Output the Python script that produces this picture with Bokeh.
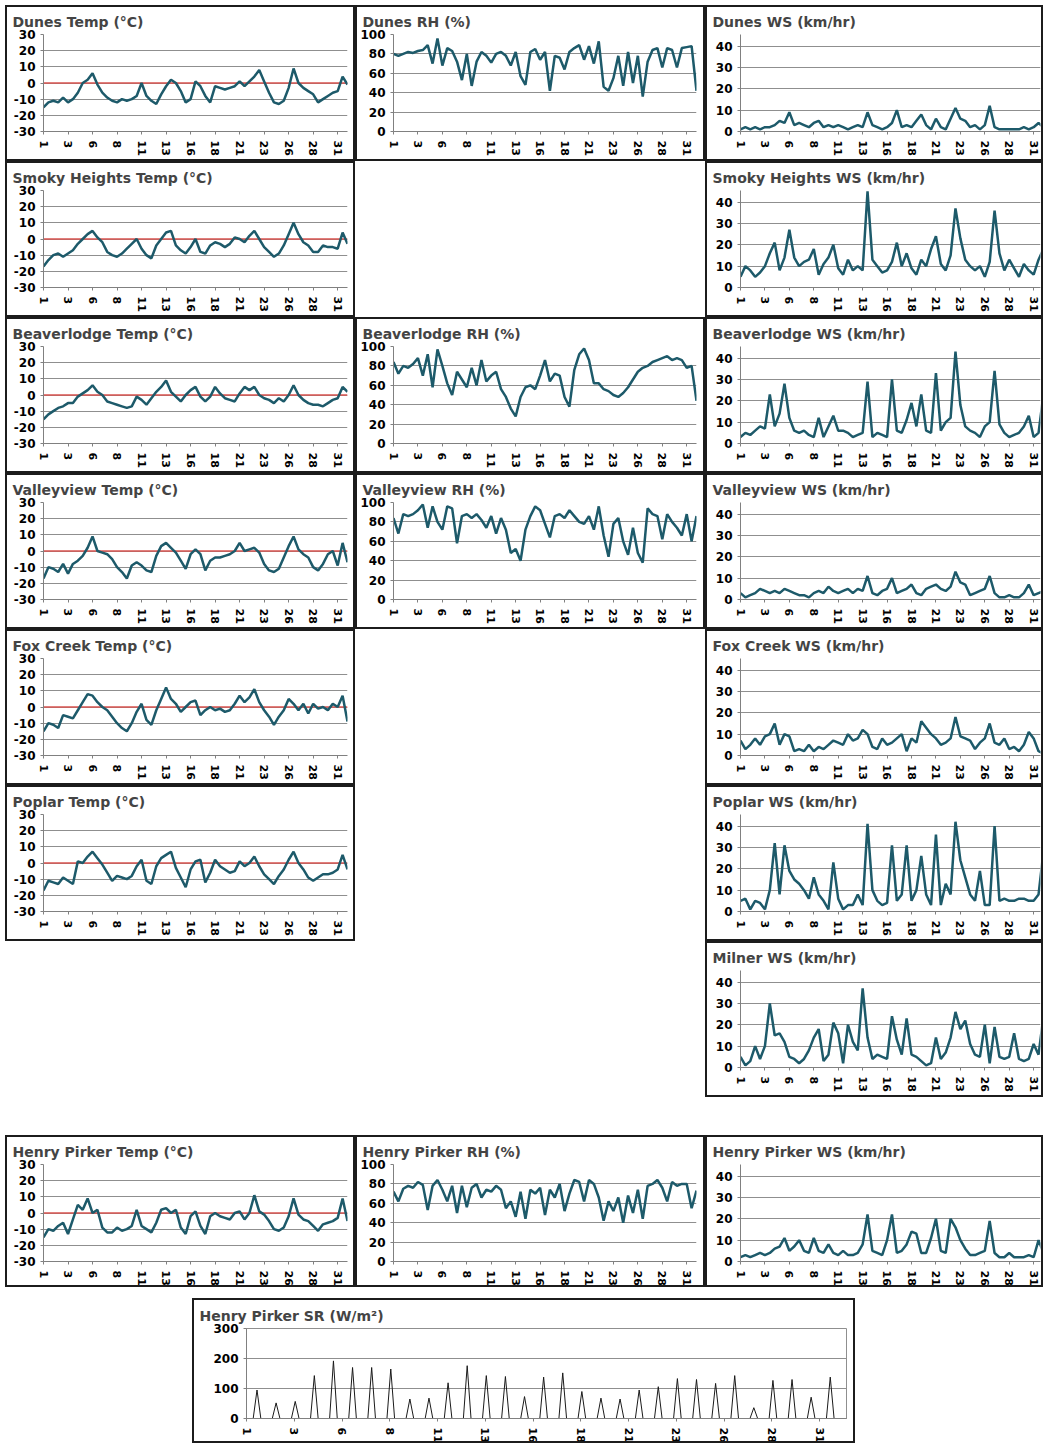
from bokeh.plotting import figure
from bokeh.layouts import column, row
from bokeh.models import Spacer, FixedTicker, Span, Range1d
from bokeh.embed import file_html
from bokeh.resources import INLINE

# sample times (half-day steps, day of month)
sample_day = [1 + 0.5 * i for i in range(63)]
tick_pos = [1, 3.5, 6, 8.5, 11, 13.5, 16, 18.5, 21, 23.5, 26, 28.5, 31]
tick_text = ["1", "3", "6", "8", "11", "13", "16", "18", "21", "23", "26", "28", "31"]

dunes_temp = [-15, -12, -11, -12, -9, -12, -10, -6, 0, 2,
              6, -1, -6, -9, -11, -12, -10, -11, -10, -8,
              0, -8, -11, -13, -7, -2, 2, 0, -5, -12,
              -10, 1, -2, -8, -12, -2, -3, -4, -3, -2,
              1, -2, 1, 4, 8, 1, -6, -12, -13, -11,
              -3, 9, 0, -3, -5, -7, -12, -10, -8, -6,
              -5, 4, -1]
dunes_rh = [80, 78, 80, 82, 81, 83, 84, 89, 70, 96,
            68, 86, 83, 72, 53, 80, 47, 72, 82, 78,
            71, 80, 82, 78, 68, 82, 57, 48, 82, 85,
            74, 82, 42, 78, 76, 64, 82, 86, 89, 74,
            88, 70, 93, 46, 42, 55, 78, 47, 82, 50,
            78, 36, 72, 84, 86, 66, 86, 84, 66, 86,
            87, 88, 42]
dunes_ws = [1, 2, 1, 2, 1, 2, 2, 3, 5, 4,
            9, 3, 4, 3, 2, 4, 5, 2, 3, 2,
            3, 2, 1, 2, 3, 2, 9, 3, 2, 1,
            2, 4, 10, 2, 3, 2, 5, 8, 3, 1,
            6, 2, 1, 6, 11, 6, 5, 2, 3, 1,
            3, 12, 2, 1, 1, 1, 1, 1, 2, 1,
            2, 4, 2]
smoky_temp = [-17, -13, -10, -9, -11, -9, -7, -3, 0, 3,
              5, 1, -2, -8, -10, -11, -9, -6, -3, 0,
              -6, -10, -12, -4, 0, 4, 5, -4, -7, -9,
              -5, 0, -8, -9, -4, -2, -3, -5, -3, 1,
              0, -2, 2, 5, 0, -5, -8, -11, -9, -4,
              3, 10, 3, -2, -4, -8, -8, -4, -5, -5,
              -6, 4, -3]
smoky_ws = [5, 10, 8, 5, 7, 10, 16, 21, 8, 14,
            27, 14, 10, 12, 13, 18, 6, 11, 14, 20,
            9, 6, 13, 8, 10, 8, 45, 13, 10, 7,
            8, 12, 21, 10, 16, 9, 6, 13, 10, 18,
            24, 11, 8, 15, 37, 23, 13, 10, 8, 10,
            5, 12, 36, 16, 8, 13, 9, 5, 11, 8,
            6, 13, 18]
beaver_temp = [-15, -12, -10, -8, -7, -5, -5, -1, 1, 3,
               6, 2, 0, -4, -5, -6, -7, -8, -7, -1,
               -3, -6, -2, 2, 5, 9, 2, -1, -4, 0,
               3, 5, -1, -4, -1, 5, 1, -2, -3, -4,
               1, 5, 3, 5, 0, -2, -3, -5, -2, -4,
               0, 6, 0, -3, -5, -6, -6, -7, -5, -3,
               -2, 5, 2]
beaver_rh = [84, 72, 80, 78, 82, 88, 70, 92, 58, 97,
             80, 62, 50, 74, 66, 58, 78, 60, 86, 64,
             70, 74, 56, 48, 36, 28, 48, 58, 60, 56,
             70, 86, 64, 72, 70, 48, 38, 76, 92, 98,
             86, 62, 62, 56, 54, 50, 48, 52, 58, 66,
             74, 78, 80, 84, 86, 88, 90, 86, 88, 86,
             78, 80, 44]
beaver_ws = [3, 5, 4, 6, 8, 7, 23, 8, 14, 28,
             12, 6, 5, 6, 4, 3, 12, 3, 8, 13,
             6, 6, 5, 3, 4, 5, 29, 3, 5, 4,
             3, 30, 6, 5, 11, 19, 8, 23, 6, 5,
             33, 6, 10, 12, 43, 18, 8, 6, 5, 3,
             8, 10, 34, 9, 5, 3, 4, 5, 8, 13,
             3, 5, 23]
valley_temp = [-17, -10, -11, -13, -8, -14, -8, -6, -3, 2,
               9, 0, -1, -2, -5, -10, -13, -17, -9, -7,
               -9, -12, -13, -3, 3, 5, 2, -1, -6, -11,
               -2, 1, -2, -12, -6, -4, -4, -3, -2, 0,
               5, 0, 1, 2, -1, -8, -12, -13, -11, -4,
               3, 9, 1, -2, -4, -10, -12, -8, -2, 0,
               -9, 5, -7]
valley_rh = [84, 68, 88, 86, 88, 92, 98, 74, 96, 80,
             72, 96, 94, 58, 86, 88, 84, 88, 82, 74,
             86, 68, 84, 72, 48, 52, 40, 72, 86, 96,
             92, 78, 64, 86, 88, 84, 92, 86, 80, 78,
             86, 72, 96, 66, 44, 78, 84, 60, 46, 74,
             48, 38, 94, 88, 86, 62, 88, 80, 74, 66,
             88, 60, 86]
valley_ws = [3, 1, 2, 3, 5, 4, 3, 4, 3, 5,
             4, 3, 2, 2, 1, 3, 4, 3, 6, 4,
             3, 4, 5, 3, 5, 4, 11, 3, 2, 4,
             5, 10, 3, 4, 5, 7, 3, 2, 5, 6,
             7, 5, 4, 6, 13, 8, 7, 2, 3, 4,
             5, 11, 3, 1, 1, 2, 1, 1, 3, 7,
             2, 3, 4]
fox_temp = [-15, -10, -11, -13, -5, -6, -7, -2, 3, 8,
            7, 3, 0, -2, -6, -10, -13, -15, -10, -3,
            2, -8, -11, -2, 5, 12, 5, 2, -3, 0,
            3, 4, -5, -2, 0, -2, -1, -3, -2, 2,
            7, 3, 6, 11, 3, -2, -6, -11, -6, -2,
            5, 2, -2, 2, -4, 2, -1, 0, -2, 2,
            0, 7, -9]
fox_ws = [7, 3, 5, 8, 5, 9, 10, 15, 5, 10,
          9, 2, 3, 2, 5, 2, 4, 3, 5, 7,
          6, 5, 10, 7, 8, 12, 10, 4, 3, 8,
          5, 6, 8, 10, 2, 8, 6, 16, 13, 10,
          8, 5, 6, 8, 18, 9, 8, 7, 3, 6,
          8, 15, 6, 5, 8, 3, 4, 2, 5, 11,
          8, 2, 1]
poplar_temp = [-17, -11, -12, -13, -9, -11, -13, 1, 0, 4,
               7, 3, -1, -6, -11, -8, -9, -10, -8, -2,
               2, -11, -13, -2, 3, 5, 7, -3, -9, -15,
               -4, 1, 2, -12, -6, 2, -2, -4, -6, -5,
               1, -2, 0, 4, -2, -7, -10, -13, -8, -4,
               2, 7, 0, -4, -9, -11, -9, -7, -7, -6,
               -4, 5, -4]
poplar_ws = [5, 6, 1, 5, 4, 1, 10, 32, 8, 31,
             19, 15, 13, 10, 6, 16, 8, 5, 1, 23,
             6, 1, 3, 3, 8, 3, 41, 10, 5, 3,
             4, 31, 5, 8, 31, 5, 10, 26, 8, 3,
             36, 3, 13, 8, 42, 24, 16, 8, 5, 19,
             3, 3, 40, 5, 6, 5, 5, 6, 6, 5,
             5, 8, 28]
milner_ws = [5, 1, 3, 10, 4, 10, 30, 15, 16, 12,
             5, 4, 2, 4, 8, 14, 18, 3, 6, 21,
             16, 2, 20, 12, 8, 37, 14, 4, 6, 5,
             4, 24, 13, 6, 23, 6, 5, 3, 1, 2,
             14, 4, 7, 14, 26, 18, 22, 11, 6, 5,
             20, 2, 19, 5, 4, 5, 16, 4, 3, 4,
             11, 6, 24]
henry_temp = [-15, -10, -11, -8, -6, -13, -4, 5, 2, 9,
              0, 2, -9, -12, -12, -9, -11, -10, -8, 2,
              -8, -10, -12, -6, 2, 3, 0, 2, -9, -13,
              -2, 1, -8, -13, -2, 0, -2, -3, -4, 0,
              1, -4, 0, 11, 1, -1, -5, -10, -11, -9,
              -2, 9, -1, -4, -5, -8, -11, -7, -6, -5,
              -3, 9, -5]
henry_rh = [72, 62, 75, 78, 76, 82, 79, 53, 78, 84,
            74, 62, 78, 50, 78, 56, 76, 80, 66, 74,
            72, 78, 74, 55, 62, 46, 72, 44, 74, 70,
            76, 48, 74, 66, 80, 52, 70, 84, 82, 62,
            84, 80, 66, 42, 62, 52, 66, 40, 68, 50,
            74, 44, 78, 80, 84, 76, 62, 82, 78, 80,
            80, 55, 73]
henry_ws = [2, 3, 2, 3, 4, 3, 4, 6, 7, 11,
            5, 7, 10, 5, 4, 11, 5, 4, 8, 4,
            3, 5, 3, 3, 4, 8, 22, 5, 4, 3,
            10, 22, 4, 5, 8, 14, 13, 4, 4, 11,
            20, 5, 4, 20, 16, 10, 6, 3, 3, 4,
            5, 19, 4, 2, 2, 4, 2, 2, 2, 3,
            2, 10, 4]
# daily solar radiation peaks (W/m2), days 1..31
sr_peak = [95, 52, 57, 143, 192, 170, 170, 165, 65, 68,
           119, 176, 143, 140, 73, 138, 152, 90, 68, 65,
           95, 106, 133, 130, 117, 143, 36, 127, 130, 71, 138]

sr_x, sr_y = [1.0], [0]
for i, pk in enumerate(sr_peak):
    d = i + 1
    sr_x += [d + 0.35, d + 0.55, d + 0.75]
    sr_y += [0, pk, 0]
sr_x.append(32.4)
sr_y.append(0)

LINE = "#1d5a6a"
GRID = "#8f8f8f"
AXIS = "#808080"
FONT = "DejaVu Sans"
TITLE_PX = 14

Y_SPECS = {
    "temp": ((-30, 30), [-30, -20, -10, 0, 10, 20, 30]),
    "rh": ((0, 100), [0, 20, 40, 60, 80, 100]),
    "ws": ((0, 45.4), [0, 10, 20, 30, 40]),
    "sr": ((0, 300), [0, 100, 200, 300]),
}


def panel(title, xs, ys, kind, width, height, left, right, xmax=32.0,
          top=27, bottom=32, color=LINE, lw=2.5):
    (lo, hi), ticks = Y_SPECS[kind]
    p = figure(width=width, height=height,
               x_range=Range1d(1, xmax), y_range=Range1d(lo, hi),
               output_backend="svg", toolbar_location=None,
               min_border_left=left, min_border_right=right,
               min_border_top=top, min_border_bottom=bottom)
    p.styles = {"border": "2px solid #1c1c1c"}
    p.title.text = title
    p.title.text_font = FONT
    p.title.text_font_style = "bold"
    p.title.text_font_size = f"{TITLE_PX}px"
    p.title.align = "left"
    p.title.vertical_align = "middle"
    p.title.offset = 5 - left
    p.title.standoff = 8
    p.outline_line_color = GRID if kind == "sr" else None
    p.background_fill_color = "white"
    p.border_fill_color = "white"

    p.yaxis.ticker = FixedTicker(ticks=ticks)
    p.ygrid.ticker = FixedTicker(ticks=ticks)
    p.yaxis.major_label_overrides = {t: str(t) for t in ticks}
    p.xaxis.ticker = FixedTicker(ticks=tick_pos)
    p.xaxis.major_label_overrides = {t: s for t, s in zip(tick_pos, tick_text)}
    p.xaxis.major_label_orientation = "vertical"
    for ax in (p.xaxis, p.yaxis):
        ax.axis_line_color = AXIS
        ax.major_tick_line_color = AXIS
        ax.minor_tick_line_color = None
        ax.major_tick_out = 3
        ax.major_tick_in = 0
        ax.major_label_text_font = FONT
        ax.major_label_text_font_style = "bold"
        ax.major_label_text_color = "black"
    p.yaxis.major_label_standoff = 5
    p.xaxis.major_label_standoff = 6
    p.yaxis.major_label_text_font_size = "12px"
    p.xaxis.major_label_text_font_size = "11px"
    p.xgrid.visible = False
    p.ygrid.grid_line_color = GRID
    p.ygrid.grid_line_width = 1

    if kind == "temp":
        p.add_layout(Span(location=0, dimension="width", line_color="#d9534f",
                          line_width=1.3, level="underlay"))
    p.line(xs, ys, line_color=color, line_width=lw)
    return p


W1, W2, W3, H = 350, 350, 338, 156
C1 = dict(width=W1, left=36, right=10)
C2 = dict(width=W2, left=36, right=11)
C3 = dict(width=W3, left=33, right=5, xmax=31.7)


def blank(w, h=H):
    return Spacer(width=w, height=h)


rows = [
    row(panel("Dunes Temp (°C)", sample_day, dunes_temp, "temp", height=H, **C1),
        panel("Dunes RH (%)", sample_day, dunes_rh, "rh", height=H, **C2),
        panel("Dunes WS (km/hr)", sample_day, dunes_ws, "ws", height=H, **C3)),
    row(panel("Smoky Heights Temp (°C)", sample_day, smoky_temp, "temp", height=H, **C1),
        blank(W2),
        panel("Smoky Heights WS (km/hr)", sample_day, smoky_ws, "ws", height=H, **C3)),
    row(panel("Beaverlodge Temp (°C)", sample_day, beaver_temp, "temp", height=H, **C1),
        panel("Beaverlodge RH (%)", sample_day, beaver_rh, "rh", height=H, **C2),
        panel("Beaverlodge WS (km/hr)", sample_day, beaver_ws, "ws", height=H, **C3)),
    row(panel("Valleyview Temp (°C)", sample_day, valley_temp, "temp", height=H, **C1),
        panel("Valleyview RH (%)", sample_day, valley_rh, "rh", height=H, **C2),
        panel("Valleyview WS (km/hr)", sample_day, valley_ws, "ws", height=H, **C3)),
    row(panel("Fox Creek Temp (°C)", sample_day, fox_temp, "temp", height=H, **C1),
        blank(W2),
        panel("Fox Creek WS (km/hr)", sample_day, fox_ws, "ws", height=H, **C3)),
    row(panel("Poplar Temp (°C)", sample_day, poplar_temp, "temp", height=H, **C1),
        blank(W2),
        panel("Poplar WS (km/hr)", sample_day, poplar_ws, "ws", height=H, **C3)),
    row(blank(W1 + W2),
        panel("Milner WS (km/hr)", sample_day, milner_ws, "ws", height=H, **C3)),
    Spacer(width=10, height=38),
    row(panel("Henry Pirker Temp (°C)", sample_day, henry_temp, "temp", height=152, bottom=28, **C1),
        panel("Henry Pirker RH (%)", sample_day, henry_rh, "rh", height=152, bottom=28, **C2),
        panel("Henry Pirker WS (km/hr)", sample_day, henry_ws, "ws", height=152, bottom=28, **C3)),
    Spacer(width=10, height=11),
    row(Spacer(width=187, height=145),
        panel("Henry Pirker SR (W/m²)", sr_x, sr_y, "sr", width=663, height=145,
              left=52, right=11, xmax=32.4, top=28, bottom=21, color="#1a1a1a", lw=1)),
]

content = column(*rows)
layout = column(Spacer(width=10, height=5), row(Spacer(width=5, height=10), content))
open("out.html", "w").write(file_html(layout, INLINE))
